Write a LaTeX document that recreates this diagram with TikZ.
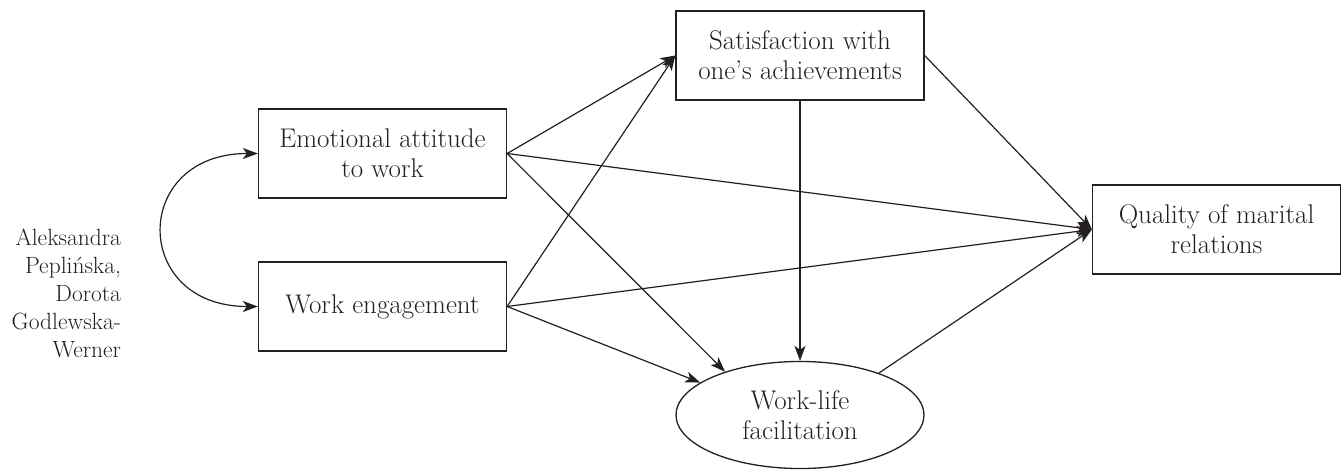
\documentclass[tikz,border=0pt]{standalone}
\usepackage{fontspec}
\usetikzlibrary{shapes.geometric,arrows.meta}
\definecolor{ink}{HTML}{231F20}
\begin{document}
\begin{tikzpicture}[x=1pt,y=-1pt,
  line width=1.3pt, draw=ink, text=ink,
  box/.style={draw=ink, rectangle, minimum width=248pt, minimum height=89pt,
    inner sep=0pt, align=center, font=\fontsize{27}{30}\selectfont},
  oval/.style={draw=ink, ellipse, minimum width=248pt, minimum height=107pt,
    inner sep=0pt, align=center, font=\fontsize{27}{30}\selectfont},
  path/.style={-{Stealth[length=15pt,width=11pt,inset=4pt]}, draw=ink, line width=1.2pt},
  twohead/.style={{Stealth[length=15pt,width=11pt,inset=4pt]}-{Stealth[length=15pt,width=11pt,inset=4pt]}, draw=ink, line width=1.2pt}]
\useasboundingbox (0,0) rectangle (1341,470);

% variables of the path model
\node[box]  (emo)  at (382.5,153.5) {Emotional attitude\\to work};
\node[box]  (we)   at (382.5,306.5) {Work engagement};
\node[box]  (sat)  at (800,55.5)    {Satisfaction with\\one's achievements};
\node[box]  (qual) at (1216.5,229.5) {Quality of marital\\relations};
\node[oval] (wlf)  at (800,415)     {Work-life\\facilitation};

% authors
\node[anchor=east, align=right, font=\fontsize{23.5}{28}\selectfont, text=ink]
  (auth) at (125,293.5) {Aleksandra\\Peplińska,\\Dorota\\Godlewska-\\Werner};

% correlation between the predictors
\draw[twohead] (emo.west) .. controls (131,153.5) and (131,306.5) .. (we.west);

% directed paths
\draw[path] (emo.east) -- (sat.west);
\draw[path] (we.east)  -- (sat.west);
\draw[path] (emo.east) -- (wlf.150);
\draw[path] (we.east)  -- (wlf.162);
\draw[path] (sat.south) -- (wlf.north);
\draw[path] (emo.east) -- (qual.west);
\draw[path] (we.east)  -- (qual.west);
\draw[path] (sat.east) -- (qual.west);
\draw[path] (wlf.28)   -- (qual.west);
\end{tikzpicture}
\end{document}
